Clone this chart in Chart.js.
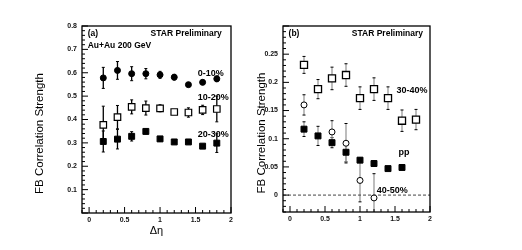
<!DOCTYPE html>
<html>
<head>
<meta charset="utf-8">
<script src="https://cdn.jsdelivr.net/npm/chart.js@4.4.0/dist/chart.umd.min.js"></script>
<style>
  html, body { margin: 0; padding: 0; background: #fff; }
  body { width: 522px; height: 250px; position: relative; overflow: hidden; }
  .panel { position: absolute; top: 0; height: 250px; }
  #panelA { left: 0; width: 261px; }
  #panelB { left: 250px; width: 272px; }
</style>
</head>
<body>
<div class="panel" id="panelA"><canvas id="chartA"></canvas></div>
<div class="panel" id="panelB"><canvas id="chartB"></canvas></div>
<script>
// delta-eta bins
const etaBins = [0.2, 0.4, 0.6, 0.8, 1.0, 1.2, 1.4, 1.6, 1.8];
const ppEta = [0.2, 0.4, 0.6, 0.8, 1.0, 1.2, 1.4, 1.6];
const eta4050 = [0.2, 0.6, 0.8, 1.0, 1.2];

// panel (a): Au+Au centralities
const cent0010 = [0.578, 0.610, 0.596, 0.596, 0.591, 0.581, 0.549, 0.559, 0.574];
const cent0010Err = [0.045, 0.038, 0.03, 0.022, 0.015, 0.012, 0.006, 0.01, 0.012];
const cent1020 = [0.377, 0.410, 0.454, 0.449, 0.448, 0.432, 0.430, 0.441, 0.445];
const cent1020Err = [0.08, 0.05, 0.03, 0.03, 0.015, 0.01, 0.02, 0.02, 0.055];
const cent2030 = [0.306, 0.316, 0.328, 0.349, 0.317, 0.304, 0.304, 0.286, 0.299];
const cent2030Err = [0.045, 0.042, 0.02, 0.01, 0.01, 0.005, 0.005, 0.006, 0.04];

// panel (b): peripheral + pp
const cent3040 = [0.231, 0.188, 0.207, 0.213, 0.172, 0.188, 0.172, 0.132, 0.134];
const cent3040Err = [0.015, 0.017, 0.02, 0.02, 0.02, 0.02, 0.02, 0.019, 0.018];
const ppVals = [0.117, 0.105, 0.093, 0.076, 0.062, 0.056, 0.047, 0.049];
const ppErr = [0.013, 0.017, 0.009, 0.017, 0.004, 0.005, 0.003, 0.004];
const cent4050 = [0.160, 0.112, 0.092, 0.026, -0.005];
const cent4050Err = [0.018, 0.02, 0.035, 0.038, 0.043];

// tick labels
const xTicks = [0, 0.5, 1, 1.5, 2];
const yTicksA = [0.1, 0.2, 0.3, 0.4, 0.5, 0.6, 0.7, 0.8];
const yTicksB = [0, 0.05, 0.1, 0.15, 0.2, 0.25];

const FONT = '"Liberation Sans", Arial, sans-serif';
const tickFont = { family: FONT, size: 7, weight: 'bold' };
const fmt = v => String(+v.toFixed(2));

function toPoints(xs, ys) {
  return xs.map((x, i) => ({ x: x, y: ys[i] }));
}

// error bars, drawn behind the markers
const errorBars = {
  id: 'errorBars',
  beforeDatasetsDraw(chart) {
    const { ctx, chartArea, scales } = chart;
    ctx.save();
    ctx.beginPath();
    ctx.rect(chartArea.left, chartArea.top, chartArea.width, chartArea.height);
    ctx.clip();
    chart.data.datasets.forEach(ds => {
      ds.data.forEach((p, j) => {
        const x = scales.x.getPixelForValue(p.x);
        const y1 = scales.y.getPixelForValue(p.y + ds.errors[j]);
        const y2 = scales.y.getPixelForValue(p.y - ds.errors[j]);
        ctx.strokeStyle = ds.barColor;
        ctx.lineWidth = 1.3;
        ctx.beginPath();
        ctx.moveTo(x, y1);
        ctx.lineTo(x, y2);
        ctx.stroke();
        ctx.strokeStyle = '#000';
        ctx.lineWidth = 1;
        ctx.beginPath();
        ctx.moveTo(x - 1.5, y1); ctx.lineTo(x + 1.5, y1);
        ctx.moveTo(x - 1.5, y2); ctx.lineTo(x + 1.5, y2);
        ctx.stroke();
      });
    });
    ctx.restore();
  }
};

// frame, inward ticks, zero line, y title and text labels
const decor = {
  id: 'decor',
  afterDraw(chart, args, opts) {
    const { ctx, chartArea: a, scales } = chart;
    ctx.save();
    if (opts.zeroLine) {
      const y0 = scales.y.getPixelForValue(0);
      ctx.strokeStyle = '#444';
      ctx.lineWidth = 1;
      ctx.setLineDash([3, 2]);
      ctx.beginPath();
      ctx.moveTo(a.left, y0);
      ctx.lineTo(a.right, y0);
      ctx.stroke();
      ctx.setLineDash([]);
    }
    ctx.strokeStyle = '#000';
    ctx.lineWidth = 1.3;
    ctx.strokeRect(a.left, a.top, a.width, a.height);

    ctx.lineWidth = 1;
    ctx.beginPath();
    const xs = scales.x;
    for (let i = Math.ceil(xs.min / 0.1 - 1e-6); i <= Math.floor(xs.max / 0.1 + 1e-6); i++) {
      const px = xs.getPixelForValue(i * 0.1);
      const len = i % 5 === 0 ? 6 : 3;
      ctx.moveTo(px, a.bottom);
      ctx.lineTo(px, a.bottom - len);
    }
    const ys = scales.y;
    const st = opts.yMinor;
    for (let i = Math.ceil(ys.min / st - 1e-6); i <= Math.floor(ys.max / st + 1e-6); i++) {
      const py = ys.getPixelForValue(i * st);
      const len = i % 5 === 0 ? 6 : 3;
      ctx.moveTo(a.left, py);
      ctx.lineTo(a.left + len, py);
    }
    ctx.stroke();

    ctx.fillStyle = '#000';
    ctx.textBaseline = 'middle';

    // y axis title, sits a little below the middle like the original
    ctx.save();
    ctx.translate(a.left - opts.titleGap, (a.top + a.bottom) / 2 + 14);
    ctx.rotate(-Math.PI / 2);
    ctx.font = '11.5px ' + FONT;
    ctx.textAlign = 'center';
    ctx.fillText('FB Correlation Strength', 0, 0);
    ctx.restore();

    opts.notes.forEach(n => {
      ctx.font = n.font;
      ctx.textAlign = n.align;
      ctx.fillText(n.text, xs.getPixelForValue(n.x), ys.getPixelForValue(n.y));
    });
    ctx.restore();
  }
};

function buildOptions(cfg) {
  return {
    responsive: true,
    maintainAspectRatio: false,
    animation: false,
    events: [],
    layout: { padding: cfg.padding },
    plugins: {
      legend: { display: false },
      tooltip: { enabled: false },
      decor: { zeroLine: cfg.zeroLine, yMinor: cfg.yMinor, notes: cfg.notes, titleGap: cfg.titleGap }
    },
    scales: {
      x: {
        type: 'linear',
        min: -0.1,
        max: 2,
        afterBuildTicks: s => { s.ticks = xTicks.map(v => ({ value: v })); },
        afterFit: s => { s.height = 30; },
        grid: { display: false, drawTicks: false },
        border: { display: false },
        ticks: { font: tickFont, color: '#111', padding: 3, maxRotation: 0, autoSkip: false, callback: fmt },
        title: {
          display: cfg.xTitle,
          text: 'Δη',
          color: '#000',
          font: { family: FONT, size: 11 },
          padding: { top: 0, bottom: 5 }
        }
      },
      y: {
        type: 'linear',
        min: cfg.yMin,
        max: cfg.yMax,
        afterBuildTicks: s => { s.ticks = cfg.yTicks.map(v => ({ value: v })); },
        afterFit: s => { s.width = cfg.yWidth; },
        grid: { display: false, drawTicks: false },
        border: { display: false },
        ticks: { font: tickFont, color: '#111', padding: 5, autoSkip: false, callback: fmt }
      }
    }
  };
}

const boldText = 'bold 8.5px ' + FONT;
const labelText = 'bold 9px ' + FONT;

new Chart(document.getElementById('chartA'), {
  type: 'scatter',
  data: {
    datasets: [
      { label: '0-10%', data: toPoints(etaBins, cent0010), errors: cent0010Err, barColor: '#000',
        pointStyle: 'circle', pointRadius: 3, backgroundColor: '#000', borderColor: '#000', borderWidth: 1 },
      { label: '10-20%', data: toPoints(etaBins, cent1020), errors: cent1020Err, barColor: '#000',
        pointStyle: 'rect', pointRadius: 4.6, backgroundColor: '#fff', borderColor: '#000', borderWidth: 1.2 },
      { label: '20-30%', data: toPoints(etaBins, cent2030), errors: cent2030Err, barColor: '#000',
        pointStyle: 'rect', pointRadius: 4.2, backgroundColor: '#000', borderColor: '#000', borderWidth: 1 }
    ]
  },
  options: buildOptions({
    padding: { left: 30, right: 30, top: 26, bottom: 7 },
    yMin: 0, yMax: 0.8, yTicks: yTicksA, yMinor: 0.02, yWidth: 52, titleGap: 42,
    xTitle: true, zeroLine: false,
    notes: [
      { text: '(a)', x: -0.02, y: 0.766, align: 'left', font: boldText },
      { text: 'STAR Preliminary', x: 1.87, y: 0.766, align: 'right', font: boldText },
      { text: 'Au+Au 200 GeV', x: -0.02, y: 0.714, align: 'left', font: boldText },
      { text: '0-10%', x: 1.53, y: 0.597, align: 'left', font: labelText },
      { text: '10-20%', x: 1.53, y: 0.495, align: 'left', font: labelText },
      { text: '20-30%', x: 1.53, y: 0.334, align: 'left', font: labelText }
    ]
  }),
  plugins: [errorBars, decor]
});

new Chart(document.getElementById('chartB'), {
  type: 'scatter',
  data: {
    datasets: [
      { label: '30-40%', data: toPoints(etaBins, cent3040), errors: cent3040Err, barColor: '#999',
        pointStyle: 'rect', pointRadius: 5, backgroundColor: '#fff', borderColor: '#000', borderWidth: 1.3 },
      { label: 'pp', data: toPoints(ppEta, ppVals), errors: ppErr, barColor: '#999',
        pointStyle: 'rect', pointRadius: 4.2, backgroundColor: '#000', borderColor: '#000', borderWidth: 1 },
      { label: '40-50%', data: toPoints(eta4050, cent4050), errors: cent4050Err, barColor: '#999',
        pointStyle: 'circle', pointRadius: 3, backgroundColor: '#fff', borderColor: '#000', borderWidth: 1 }
    ]
  },
  options: buildOptions({
    padding: { left: 5, right: 92, top: 26, bottom: 8 },
    yMin: -0.03, yMax: 0.3, yTicks: yTicksB, yMinor: 0.01, yWidth: 28, titleGap: 21,
    xTitle: false, zeroLine: true,
    notes: [
      { text: '(b)', x: -0.02, y: 0.286, align: 'left', font: boldText },
      { text: 'STAR Preliminary', x: 1.9, y: 0.286, align: 'right', font: boldText },
      { text: '30-40%', x: 1.52, y: 0.185, align: 'left', font: labelText },
      { text: 'pp', x: 1.55, y: 0.075, align: 'left', font: labelText },
      { text: '40-50%', x: 1.24, y: 0.0075, align: 'left', font: labelText }
    ]
  }),
  plugins: [errorBars, decor]
});
</script>
</body>
</html>
